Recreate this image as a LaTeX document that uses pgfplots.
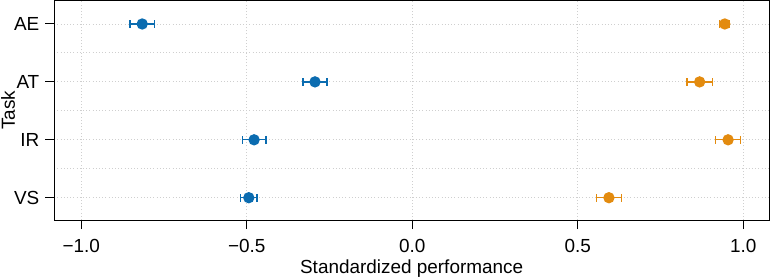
\documentclass[border=0pt]{standalone}
\usepackage{fontspec}
\setmainfont{Liberation Sans}
\usepackage{pgfplots}
\pgfplotsset{compat=1.18}
\definecolor{cblue}{HTML}{0B6CB0}
\definecolor{corange}{HTML}{E38B0F}
\definecolor{gridgray}{HTML}{CFCFCF}
\begin{document}
\fontsize{19}{22}\selectfont
\begin{tikzpicture}
\begin{axis}[
  at={(0,0)}, anchor=south west,
  scale only axis,
  width=714.7bp, height=219bp,
  xmin=-1.0816, xmax=1.0776,
  ymin=0.615, ymax=4.397,
  xtick={-1,-0.5,0,0.5,1},
  xticklabels={−1.0,−0.5,0.0,0.5,1.0},
  ytick={1,2,3,4},
  yticklabels={VS,IR,AT,AE},
  minor ytick={1.5,2.5,3.5},
  tick align=outside,
  major tick length=9bp,
  minor tick length=0pt,
  tick style={black, line width=1bp},
  axis line style={black, line width=1bp},
  xtick pos=bottom, ytick pos=left,
  xmajorgrids, ymajorgrids, yminorgrids,
  grid style={gridgray, line width=0.9bp, dash pattern=on 1bp off 2.2bp},
  minor grid style={gridgray, line width=0.9bp, dash pattern=on 1bp off 2.2bp},
  xticklabel style={font=\fontsize{19}{22}\selectfont, yshift=-3.7bp},
  yticklabel style={font=\fontsize{19}{22}\selectfont, xshift=0.5bp},
  xlabel={Standardized performance},
  ylabel={Task},
  xlabel style={font=\fontsize{19}{22}\selectfont, at={(axis description cs:0.5,-0.2434)}, anchor=base},
  ylabel style={font=\fontsize{19}{22}\selectfont, at={(axis description cs:-0.055,0.5)}, anchor=base},
  clip=false,
]
\addplot[cblue, line width=1.3bp, only marks, mark=*, mark size=5bp, mark options={fill=cblue, draw=cblue},
  error bars/.cd, x dir=both, x explicit,
  error bar style={line width=1.3bp, cblue},
  error mark options={rotate=90, mark size=3.8bp, line width=1.3bp, cblue}]
  table[x=x, y=y, x error=e] {
x y e
-0.816 4 0.037
-0.294 3 0.036
-0.478 2 0.036
-0.494 1 0.025
};
\addplot[corange, line width=1.3bp, only marks, mark=*, mark size=5bp, mark options={fill=corange, draw=corange},
  error bars/.cd, x dir=both, x explicit,
  error bar style={line width=1.3bp, corange},
  error mark options={rotate=90, mark size=3.8bp, line width=1.3bp, corange}]
  table[x=x, y=y, x error=e] {
x y e
0.944 4 0.015
0.868 3 0.038
0.954 2 0.037
0.594 1 0.037
};
\end{axis}
\pgfresetboundingbox
\useasboundingbox (-54.3bp,-59bp) rectangle (717.7bp,220bp);
\end{tikzpicture}
\end{document}
